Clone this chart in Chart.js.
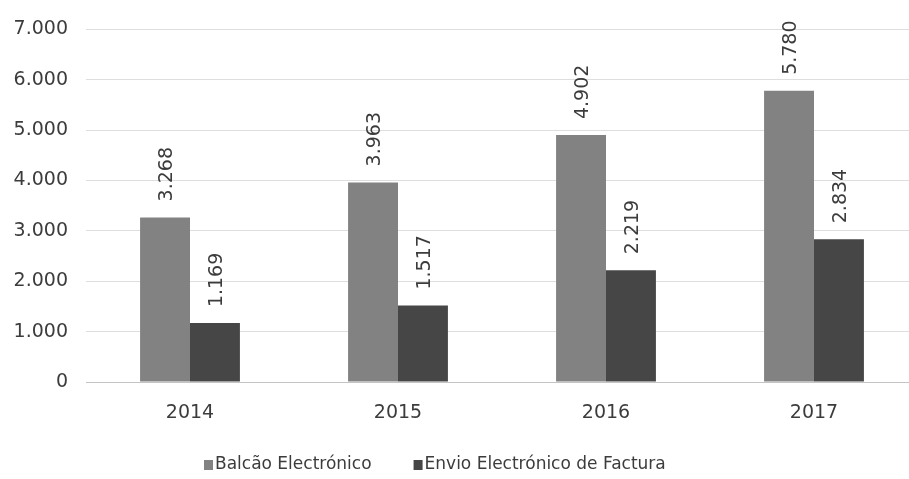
<!DOCTYPE html>
<html>
<head>
<meta charset="utf-8">
<script src="https://cdn.jsdelivr.net/npm/chart.js@4"></script>
<style>
  html, body { margin: 0; padding: 0; background: #fff; overflow: hidden; }
  #wrap { width: 909px; height: 479px; overflow: hidden; }
</style>
</head>
<body>
<div id="wrap"><canvas id="chart" width="930" height="479"></canvas></div>
<script>
// Dados
const years = ['2014', '2015', '2016', '2017'];
const balcao = [3268, 3963, 4902, 5780];
const envio = [1169, 1517, 2219, 2834];
const seriesNames = ['Balcão Electrónico', 'Envio Electrónico de Factura'];
const seriesColors = ['#828282', '#464646'];

const textColor = '#3c3c3c';
const fmt = (v) => String(v).replace(/\B(?=(\d{3})+(?!\d))/g, '.');

// rótulos rodados por cima das barras
const valueLabels = {
  id: 'valueLabels',
  afterDatasetsDraw(chart) {
    const ctx = chart.ctx;
    ctx.save();
    ctx.font = '19px "DejaVu Sans"';
    ctx.fillStyle = textColor;
    ctx.textAlign = 'left';
    ctx.textBaseline = 'middle';
    chart.data.datasets.forEach((ds, i) => {
      chart.getDatasetMeta(i).data.forEach((bar, j) => {
        ctx.save();
        ctx.translate(bar.x + 2, bar.y - 16);
        ctx.rotate(-Math.PI / 2);
        ctx.fillText(fmt(ds.data[j]), 0, 0);
        ctx.restore();
      });
    });
    ctx.restore();
  }
};

// legenda desenhada à mão para acertar a posição
const bottomLegend = {
  id: 'bottomLegend',
  afterDraw(chart) {
    const ctx = chart.ctx;
    ctx.save();
    ctx.font = '17px "DejaVu Sans"';
    ctx.textBaseline = 'middle';
    ctx.textAlign = 'left';
    const y = 465;
    let x = 204;
    chart.data.datasets.forEach((ds) => {
      ctx.fillStyle = ds.backgroundColor;
      ctx.fillRect(x, y - 5, 9, 10);
      ctx.fillStyle = textColor;
      ctx.fillText(ds.label, x + 11, y);
      x += 11 + ctx.measureText(ds.label).width + 42;
    });
    ctx.restore();
  }
};

new Chart(document.getElementById('chart'), {
  type: 'bar',
  data: {
    labels: years,
    datasets: [
      { label: seriesNames[0], data: balcao, backgroundColor: seriesColors[0], borderWidth: 0 },
      { label: seriesNames[1], data: envio, backgroundColor: seriesColors[1], borderWidth: 0 }
    ]
  },
  options: {
    responsive: false,
    animation: false,
    layout: { padding: { top: 20, right: 12, bottom: 57, left: 0 } },
    datasets: { bar: { categoryPercentage: 0.48, barPercentage: 1 } },
    plugins: {
      legend: { display: false },
      tooltip: { enabled: false }
    },
    scales: {
      x: {
        grid: { display: false, drawTicks: false },
        border: { display: false },
        ticks: { color: textColor, font: { family: 'DejaVu Sans', size: 19 }, padding: 20 },
        afterFit: (s) => { s.height = 40; }
      },
      y: {
        min: 0,
        max: 7000,
        border: { display: false },
        grid: {
          drawTicks: false,
          color: (c) => c.tick && c.tick.value === 0 ? '#c4c4c4' : '#dedede'
        },
        ticks: {
          stepSize: 1000,
          color: textColor,
          font: { family: 'DejaVu Sans', size: 19 },
          padding: 18,
          callback: (v) => fmt(v)
        },
        afterFit: (s) => { s.width = 86; }
      }
    }
  },
  plugins: [valueLabels, bottomLegend]
});
</script>
</body>
</html>
